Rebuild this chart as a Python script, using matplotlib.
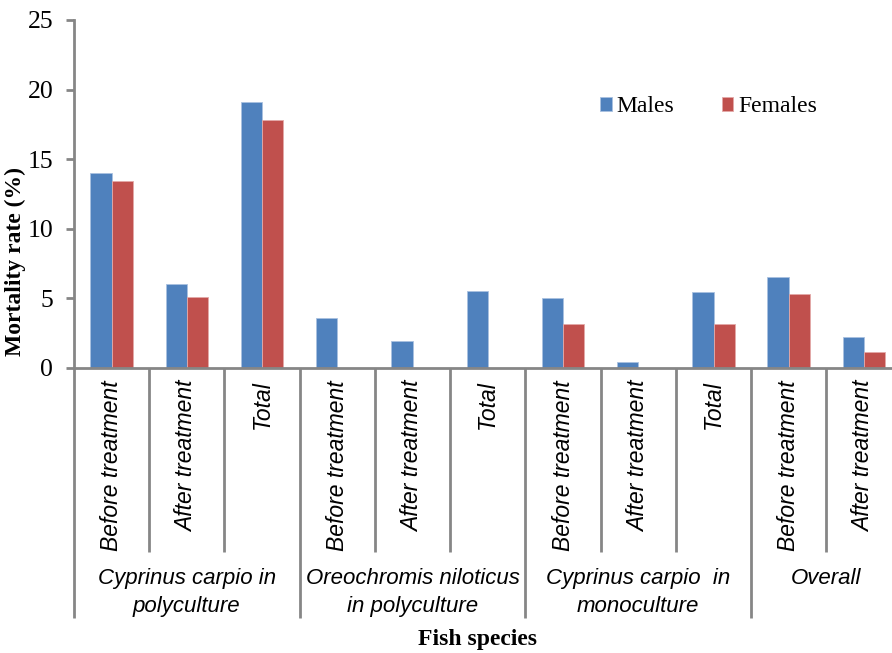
import matplotlib
matplotlib.use('Agg')
import matplotlib.pyplot as plt
import matplotlib.transforms as mtransforms
import numpy as np

# Taxas de mortalidade (%) por sexo em cada fase
categorias = ['Before treatment', 'After treatment', 'Total',
              'Before treatment', 'After treatment', 'Total',
              'Before treatment', 'After treatment', 'Total',
              'Before treatment', 'After treatment']
machos = [14.0, 6.0, 19.1, 3.6, 1.95, 5.5, 5.0, 0.45, 5.45, 6.55, 2.2]
femeas = [13.45, 5.1, 17.8, 0, 0, 0, 3.15, 0, 3.15, 5.3, 1.15]
grupos = ['Cyprinus carpio in\npolyculture', 'Oreochromis niloticus\nin polyculture',
          'Cyprinus carpio  in\nmonoculture', 'Overall']
tamanho_grupos = [3, 3, 3, 2]

azul = '#4F81BD'
vermelho = '#C0504D'
cinza = '#868686'
serif = 'Liberation Serif'
sans = 'Liberation Sans'

fig = plt.figure(figsize=(8.92, 6.53), dpi=100)
ax = fig.add_axes([74 / 892, 285 / 653, 827.6 / 892, 348 / 653])

x = np.arange(len(categorias))
w = 0.283
ax.bar(x - w / 2, machos, w, color=azul, edgecolor='#a9c1e0', linewidth=0.6, label='Males')
ax.bar(x + w / 2, femeas, w, color=vermelho, edgecolor='#e3a9a8', linewidth=0.6, label='Females')

ax.set_xlim(-0.5, len(categorias) - 0.5)
ax.set_ylim(0, 25)
ax.set_yticks([0, 5, 10, 15, 20, 25])
ax.set_xticks([])
for s in ['top', 'right']:
    ax.spines[s].set_visible(False)
for s in ['left', 'bottom']:
    ax.spines[s].set_color(cinza)
    ax.spines[s].set_linewidth(2)
ax.tick_params(axis='y', direction='out', length=6, width=2, color=cinza,
               pad=9, labelsize=18.5)
for t in ax.get_yticklabels():
    t.set_fontfamily(serif)

# Linhas divisórias e rótulos do eixo x
trans = mtransforms.blended_transform_factory(ax.transData, ax.transAxes)
limites = np.cumsum([0] + tamanho_grupos)
for i in range(len(categorias) + 1):
    fim = -0.718 if i in limites else -0.5287
    ax.plot([i - 0.5, i - 0.5], [0, fim], transform=trans, color=cinza,
            lw=2, clip_on=False, solid_capstyle='butt')

for i, cat in enumerate(categorias):
    ax.text(i, -0.0345, cat, transform=trans, rotation=90, ha='center', va='top',
            fontsize=16.5, fontstyle='italic', fontfamily=sans, color='black')

for g, nome in enumerate(grupos):
    centro = (limites[g] + limites[g + 1] - 1) / 2
    ax.text(centro, -0.576, nome, transform=trans, ha='center', va='top',
            fontsize=16, fontstyle='italic', fontfamily=sans, multialignment='center',
            linespacing=1.4)

fig.text(478 / 892, (653 - 640) / 653, 'Fish species', ha='center', va='center',
         fontsize=17, fontweight='bold', fontfamily=serif)
fig.text(15 / 892, (653 - 261) / 653, 'Mortality rate (%)', rotation=90,
         ha='center', va='center', fontsize=17, fontweight='bold', fontfamily=serif)

ax.legend(loc='center left', bbox_to_anchor=(600 / 892, (653 - 107) / 653),
          bbox_transform=fig.transFigure, ncol=2, frameon=False, borderpad=0,
          borderaxespad=0, handlelength=0.5, handleheight=0.5, handletextpad=0.2,
          columnspacing=2.0, prop={'family': serif, 'size': 17})

plt.savefig('out.png', dpi=100)
